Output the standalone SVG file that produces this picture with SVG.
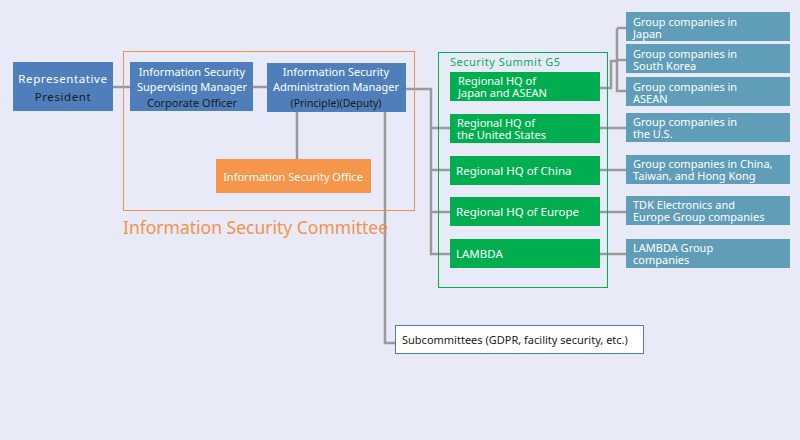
<svg xmlns="http://www.w3.org/2000/svg" width="800" height="440" viewBox="0 0 800 440">
<style>
text{font-family:"Noto Sans","DejaVu Sans",sans-serif;font-size:11.5px}
.b{fill:#4e7fbb}.g{fill:#00ae4f}.t{fill:#5f9db8}.w{fill:#fff}.k{fill:#1a1a1a}
.s{font-size:11px}
.c{stroke:#9a9a9a;stroke-width:2.5;fill:none}
</style>
<rect width="800" height="440" fill="#e9eaf8"/>
<g id="connectors">
<path class="c" d="M113 87H130M253 87H267M406 89H431V254H450M431 128H450M431 170H450M431 212H450M297 112V159M385 112V343H395M600 88H611V61H617M617 28V91H626M617 28H626M617 60H626M600 128H626M600 170H626M600 212H626M600 254H626"/>
</g>
<g id="committee"><rect x="123.5" y="51.5" width="291" height="159" fill="none" stroke="#f5914a"/>
<text x="123" y="234" fill="#f5914a" style="font-size:17.5px">Information Security Committee</text></g>
<g id="summit"><rect x="438.5" y="52.5" width="169" height="235" fill="none" stroke="#00ae4f"/>
<text x="450" y="66" fill="#00ae4f" style="font-size:11px;letter-spacing:.5px">Security Summit G5</text></g>
<g id="rep"><rect class="b" x="13" y="62" width="100" height="49"/>
<text class="w" x="63" y="83" text-anchor="middle" style="letter-spacing:.6px">Representative</text>
<text class="k" x="63" y="101" text-anchor="middle" style="letter-spacing:.6px">President</text></g>
<g id="sup"><rect class="b" x="130" y="62" width="123" height="49"/>
<text class="w" x="192" y="76" text-anchor="middle" style="font-size:11px">Information Security</text>
<text class="w" x="192" y="91" text-anchor="middle" style="font-size:11px">Supervising Manager</text>
<text class="k" x="192" y="107" text-anchor="middle" style="font-size:11px">Corporate Officer</text></g>
<g id="adm"><rect class="b" x="267" y="63" width="139" height="49"/>
<text class="w" x="336" y="76" text-anchor="middle" style="font-size:11px">Information Security</text>
<text class="w" x="336" y="91" text-anchor="middle" style="font-size:11px">Administration Manager</text>
<text class="k" x="336" y="107" text-anchor="middle" style="font-size:10.5px">(Principle)(Deputy)</text></g>
<g id="office"><rect x="216" y="159" width="155" height="34" fill="#f5964a"/>
<text class="w" x="293" y="181" text-anchor="middle" style="font-size:11px">Information Security Office</text></g>
<g id="sub"><rect x="395.5" y="325.5" width="248" height="28" fill="#fff" stroke="#4e7fbb"/>
<text class="k" x="402" y="344" style="font-size:11px">Subcommittees (GDPR, facility security, etc.)</text></g>
<g id="hq1"><rect class="g" x="450" y="72" width="150" height="29"/><text class="w s" x="458" y="85">Regional HQ of</text><text class="w s" x="458" y="97">Japan and ASEAN</text></g>
<g id="hq2"><rect class="g" x="450" y="114" width="150" height="29"/><text class="w s" x="457" y="127">Regional HQ of</text><text class="w s" x="457" y="139">the United States</text></g>
<g id="hq3"><rect class="g" x="450" y="156" width="150" height="29"/><text class="w" x="456" y="175">Regional HQ of China</text></g>
<g id="hq4"><rect class="g" x="450" y="197" width="150" height="29"/><text class="w" x="456" y="216">Regional HQ of Europe</text></g>
<g id="hq5"><rect class="g" x="450" y="239" width="150" height="29"/><text class="w" x="456" y="258">LAMBDA</text></g>
<g id="gc1"><rect class="t" x="626" y="12" width="164" height="29"/><text class="w s" x="633" y="26">Group companies in</text><text class="w s" x="633" y="38">Japan</text></g>
<g id="gc2"><rect class="t" x="626" y="44" width="164" height="29"/><text class="w s" x="633" y="58">Group companies in</text><text class="w s" x="633" y="70">South Korea</text></g>
<g id="gc3"><rect class="t" x="626" y="77" width="164" height="29"/><text class="w s" x="633" y="91">Group companies in</text><text class="w s" x="633" y="103">ASEAN</text></g>
<g id="gc4"><rect class="t" x="626" y="113" width="164" height="29"/><text class="w s" x="633" y="126">Group companies in</text><text class="w s" x="633" y="138">the U.S.</text></g>
<g id="gc5"><rect class="t" x="626" y="155" width="164" height="29"/><text class="w s" x="633" y="168">Group companies in China,</text><text class="w s" x="633" y="180">Taiwan, and Hong Kong</text></g>
<g id="gc6"><rect class="t" x="626" y="196" width="164" height="29"/><text class="w s" x="633" y="209">TDK Electronics and</text><text class="w s" x="633" y="221">Europe Group companies</text></g>
<g id="gc7"><rect class="t" x="626" y="239" width="164" height="29"/><text class="w s" x="633" y="252">LAMBDA Group</text><text class="w s" x="633" y="264">companies</text></g>
</svg>
